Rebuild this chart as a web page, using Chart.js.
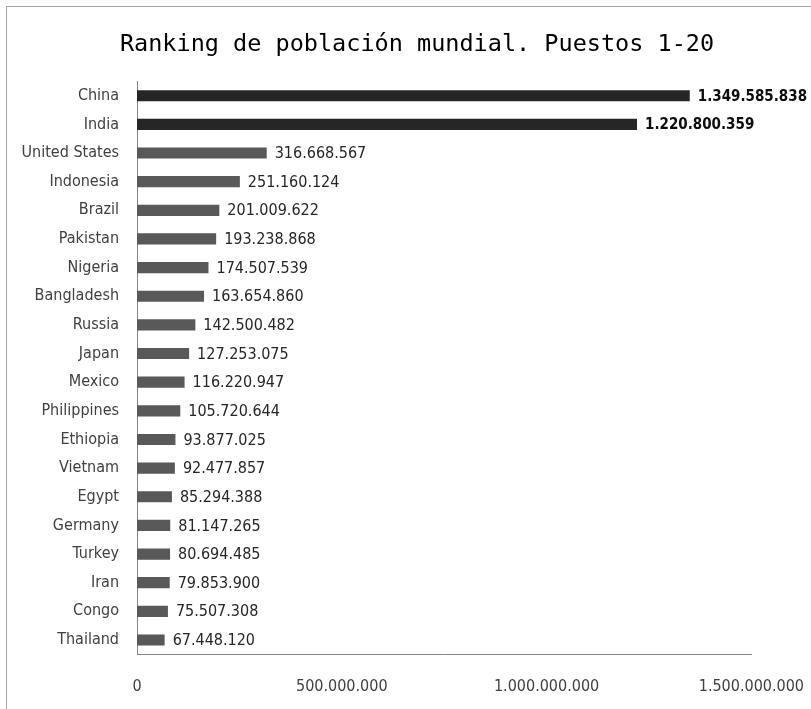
<!DOCTYPE html>
<html>
<head>
<meta charset="utf-8">
<script src="https://cdn.jsdelivr.net/npm/chart.js@4.4.1/dist/chart.umd.min.js"></script>
<style>
    html, body { margin: 0; padding: 0; background: #ffffff; overflow: hidden; }
    #frame {
        position: absolute;
        left: 6px;
        top: 6px;
        width: 820px;
        height: 702px;
        border-left: 1px solid #a6a6a6;
        border-top: 1px solid #a6a6a6;
    }
    #chart { display: block; }
</style>
</head>
<body>
<div id="frame"><canvas id="chart" width="820" height="702"></canvas></div>
<script>
// Data
const countries = [
    'China', 'India', 'United States', 'Indonesia', 'Brazil', 'Pakistan', 'Nigeria',
    'Bangladesh', 'Russia', 'Japan', 'Mexico', 'Philippines', 'Ethiopia', 'Vietnam',
    'Egypt', 'Germany', 'Turkey', 'Iran', 'Congo', 'Thailand'
];
const population = [
    1349585838, 1220800359, 316668567, 251160124, 201009622, 193238868, 174507539,
    163654860, 142500482, 127253075, 116220947, 105720644, 93877025, 92477857,
    85294388, 81147265, 80694485, 79853900, 75507308, 67448120
];
const xTicks = [0, 500000000, 1000000000, 1500000000];
const chartTitle = 'Ranking de población mundial. Puestos 1-20';

const FONT = "'DejaVu Sans Condensed', 'DejaVu Sans', sans-serif";
const topColor = '#262626';
const restColor = '#595959';

// 1349585838 -> 1.349.585.838
function formatDots(v) {
    return String(v).replace(/\B(?=(\d{3})+(?!\d))/g, '.');
}

// Value labels at the end of each bar
const valueLabels = {
    id: 'valueLabels',
    afterDatasetsDraw(chart) {
        const ctx = chart.ctx;
        const meta = chart.getDatasetMeta(0);
        ctx.save();
        ctx.textAlign = 'left';
        ctx.textBaseline = 'middle';
        meta.data.forEach((bar, i) => {
            const top = i < 2;
            ctx.font = top ? `bold 15px ${FONT}` : `16px ${FONT}`;
            ctx.fillStyle = top ? '#0d0d0d' : '#262626';
            ctx.fillText(formatDots(population[i]), bar.x + 8, bar.y + 1);
        });
        ctx.restore();
    }
};

const ctx = document.getElementById('chart').getContext('2d');
new Chart(ctx, {
    type: 'bar',
    data: {
        labels: countries,
        datasets: [{
            data: population,
            backgroundColor: population.map((_, i) => i < 2 ? topColor : restColor),
            borderWidth: 0,
            barPercentage: 0.39,
            categoryPercentage: 1
        }]
    },
    options: {
        indexAxis: 'y',
        responsive: false,
        animation: false,
        layout: { padding: 0 },
        plugins: {
            legend: { display: false },
            tooltip: { enabled: false },
            title: {
                display: true,
                text: chartTitle,
                color: '#000000',
                font: { family: "'DejaVu Sans Mono', monospace", size: 23.5, weight: 'normal' },
                padding: { top: 24, bottom: 22.2 }
            }
        },
        scales: {
            x: {
                min: 0,
                max: 1500000000,
                afterBuildTicks: (scale) => { scale.ticks = xTicks.map(v => ({ value: v })); },
                afterFit: (scale) => { scale.height = 54.7; },
                grid: { display: false, drawTicks: false },
                border: { color: '#868686', width: 1 },
                ticks: {
                    padding: 23,
                    color: '#404040',
                    font: { family: FONT, size: 16 },
                    maxRotation: 0,
                    callback: (v) => formatDots(v)
                }
            },
            y: {
                afterFit: (scale) => { scale.width = 130; },
                grid: { display: false, drawTicks: false },
                border: { color: '#868686', width: 1 },
                ticks: {
                    padding: 18,
                    color: '#404040',
                    font: { family: FONT, size: 16 }
                }
            },
            // empty right-hand axis, only reserves the space after the plot
            yRight: {
                type: 'category',
                position: 'right',
                labels: countries,
                afterFit: (scale) => { scale.width = 73.4; },
                grid: { display: false, drawTicks: false },
                border: { display: false },
                ticks: { display: false }
            }
        }
    },
    plugins: [valueLabels]
});
</script>
</body>
</html>
